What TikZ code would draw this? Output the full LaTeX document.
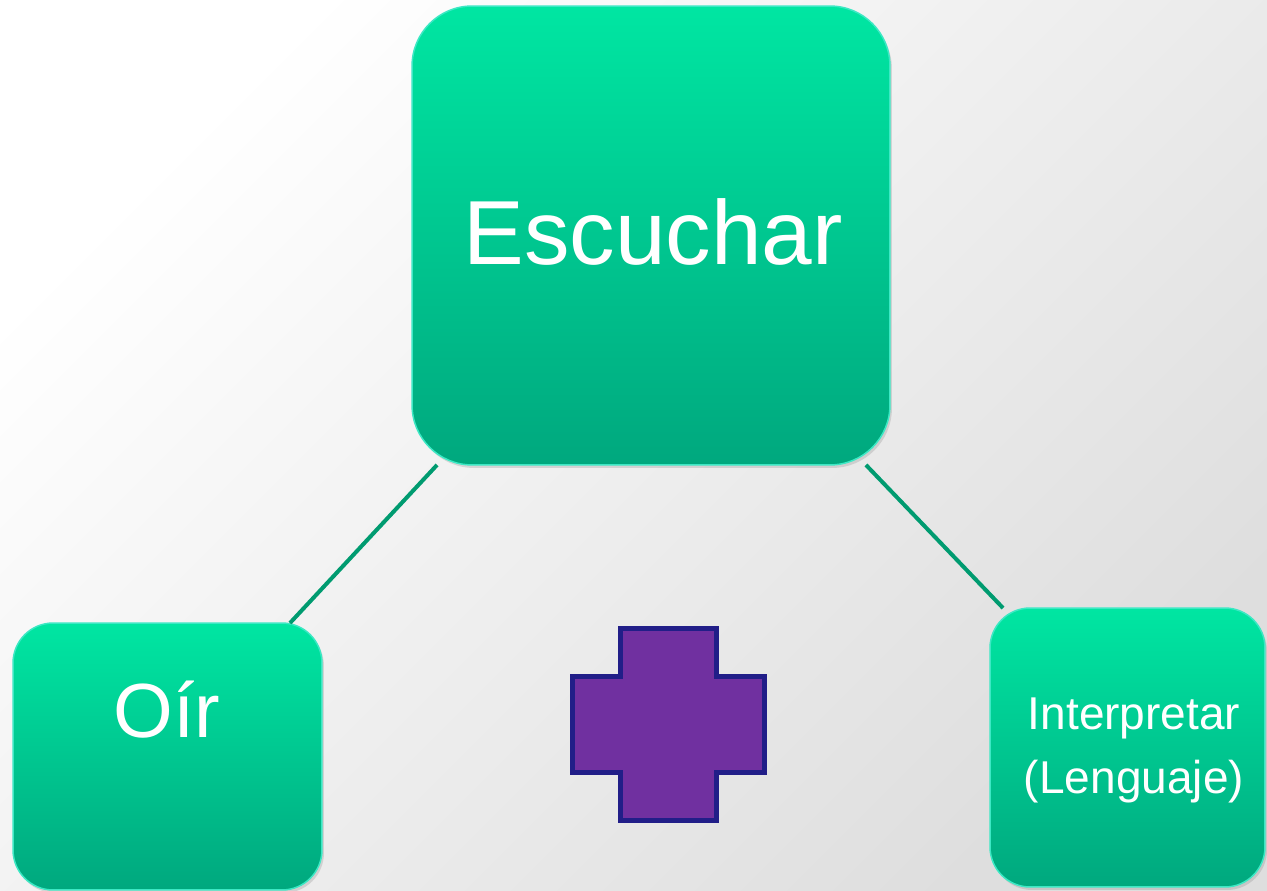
\documentclass[tikz,border=0pt]{standalone}
\usepackage{fontspec}
\setmainfont{Liberation Sans}
\usetikzlibrary{positioning}
\usetikzlibrary{shadows}

\definecolor{boxtop}{RGB}{0,230,162}
\definecolor{boxbottom}{RGB}{0,168,126}
\definecolor{boxedge}{RGB}{60,232,196}
\definecolor{linkgreen}{RGB}{0,155,112}
\definecolor{crossfill}{RGB}{112,48,160}
\definecolor{crossedge}{RGB}{33,30,136}
\definecolor{bgmid}{RGB}{236,236,236}
\definecolor{bgcorner}{RGB}{222,222,222}

\begin{document}
\begin{tikzpicture}[x=0.02cm, y=-0.02cm,
    box/.style={rectangle, rounded corners=0.8cm, inner sep=0pt, outer sep=0pt,
      top color=boxtop, bottom color=boxbottom, draw=boxedge, line width=0.03cm,
      drop shadow={opacity=0.25, shadow xshift=0.04cm, shadow yshift=-0.06cm}},
    boxtext/.style={text=white, inner sep=0pt},
    link/.style={draw=linkgreen, line width=0.08cm}]
    \useasboundingbox (0,0) rectangle (1267,891);
    \shade [top color=white, middle color=bgmid, bottom color=bgcorner, shading angle=45] (0,0) rectangle (1267,891);

    \node [box, rounded corners=1.2cm, minimum width=9.56cm, minimum height=9.18cm] (esc) at (651,235.5) {};
    \node [boxtext, font=\fontsize{51.8}{62}\selectfont, anchor=base] (esctext) at (653,265) {Escuchar};

    \node [box, minimum width=6.18cm, minimum height=5.34cm] (oir) at (167.5,756.5) {};
    \node [boxtext, font=\fontsize{43.7}{52}\selectfont, anchor=base] (oirtext) at (167,737) {Oír};

    \node [box, minimum width=5.5cm, minimum height=5.58cm] (interp) at (1127.5,747.5) {};
    \node [boxtext, align=center, font=\fontsize{26.2}{36.4}\selectfont] (interptext) at (1134,750) {Interpretar\\(Lenguaje)};

    \draw [link] ([xshift=0.5cm]esc.south west) -- ([xshift=-0.64cm]oir.north east);
    \draw [link] ([xshift=-0.48cm]esc.south east) -- ([xshift=0.26cm]interp.north west);

    % plus sign
    \draw [fill=crossfill, draw=crossedge, line width=0.1cm] (620.5,628.5) -- (716.5,628.5) -- (716.5,676.5) -- (764.5,676.5) -- (764.5,772.5) -- (716.5,772.5) -- (716.5,820.5) -- (620.5,820.5) -- (620.5,772.5) -- (572.5,772.5) -- (572.5,676.5) -- (620.5,676.5) -- cycle;
\end{tikzpicture}
\end{document}
